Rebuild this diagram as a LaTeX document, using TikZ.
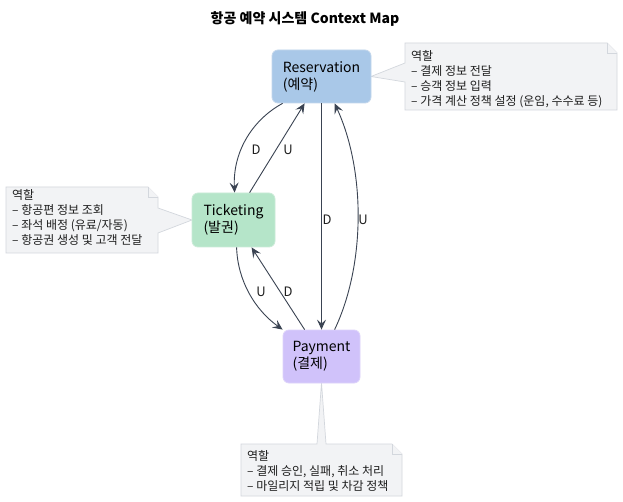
\documentclass[tikz,border=0pt]{standalone}
\usepackage{fontspec}
\setmainfont{Noto Sans CJK KR}
\usetikzlibrary{arrows.meta,calc}
\definecolor{resfill}{HTML}{A9C8E8}
\definecolor{resdraw}{HTML}{C3D7EC}
\definecolor{ticfill}{HTML}{B5E5C9}
\definecolor{ticdraw}{HTML}{CBEBD8}
\definecolor{payfill}{HTML}{D0C2FA}
\definecolor{paydraw}{HTML}{DDD3FA}
\definecolor{notefill}{HTML}{F2F3F5}
\definecolor{notedraw}{HTML}{D3D7DD}
\definecolor{arrc}{HTML}{3A4352}
\definecolor{txt}{HTML}{1E1E1E}
\begin{document}
\begin{tikzpicture}[x=1pt,y=-1pt,
  ctx/.style={rounded corners=6pt, line width=0.8pt, align=left, inner sep=0pt, font=\fontsize{14}{17}\selectfont, text=black},
  arr/.style={draw=arrc, line width=0.9pt, -{Stealth[length=10pt,width=9pt,inset=4pt]}},
  lbl/.style={font=\fontsize{13}{15}\selectfont, text=txt, inner sep=0pt},
  notebox/.style={fill=notefill, draw=notedraw, line width=0.7pt, line join=miter},
  notetext/.style={font=\fontsize{12}{15}\selectfont, align=left, inner sep=0pt, anchor=north west, text=txt}
]
\path[use as bounding box, fill=white] (0,0) rectangle (623,502);

% title
\node[font=\fontsize{14}{16}\selectfont\bfseries, inner sep=0pt] (title) at (305,19) {항공 예약 시스템 Context Map};

% node centres and note wedge tips
\path (321.5,76.5) coordinate (rc) (233.5,220) coordinate (tc) (321.5,356.5) coordinate (pc);
\path (371,76.5) coordinate (rese) (192,220) coordinate (ticw) (321.5,383) coordinate (pays);

% notes with wedges
\draw[notebox] (405,43) -- (607,43) -- (617,53) -- (617,110) -- (405,110) -- (405,82) -- (rese) -- (405,63) -- cycle;
\draw[notebox] (607,43) -- (607,53) -- (617,53);
\node[notetext] (rnote) at (411,50) {역할\\– 결제 정보 전달\\– 승객 정보 입력\\– 가격 계산 정책 설정 (운임, 수수료 등)};

\draw[notebox] (6,187) -- (148,187) -- (158,197) -- (158,208) -- (ticw) -- (158,233) -- (158,253) -- (6,253) -- cycle;
\draw[notebox] (148,187) -- (148,197) -- (158,197);
\node[notetext] (tnote) at (12,189.5) {역할\\– 항공편 정보 조회\\– 좌석 배정 (유료/자동)\\– 항공권 생성 및 고객 전달};

\draw[notebox] (241,444) -- (317,444) -- (pays) -- (326,444) -- (392,444) -- (402,454) -- (402,496) -- (241,496) -- cycle;
\draw[notebox] (392,444) -- (392,454) -- (402,454);
\node[notetext] (pnote) at (247,450.5) {역할\\– 결제 승인, 실패, 취소 처리\\– 마일리지 적립 및 차감 정책};

% context nodes
\node[ctx, fill=resfill, draw=resdraw, minimum width=99pt, minimum height=53pt] (res) at (rc) {Reservation\\(예약)};
\node[ctx, fill=ticfill, draw=ticdraw, minimum width=83pt, minimum height=54pt] (tic) at (tc) {Ticketing\\(발권)};
\node[ctx, fill=payfill, draw=paydraw, minimum width=77pt, minimum height=53pt] (pay) at (pc) {Payment\\(결제)};

% connectors
\draw[arr] ($(res.south west)+(11,0)$) .. controls +(-28,15) and +(-2,-43) .. ($(tic.north west)+(43,0)$);
\draw[arr] ($(tic.north west)+(58,0)$) -- ($(res.south west)+(33,0)$);
\draw[arr] (res.south) -- (pay.north);
\draw[arr] ($(pay.north west)+(52,0)$) .. controls +(31,-65) and +(31,67) .. ($(res.south west)+(63,0)$);
\draw[arr] ($(tic.south west)+(45,0)$) .. controls +(1,33) and +(-28,-20) .. (pay.north west);
\draw[arr] ($(pay.north west)+(22,0)$) -- ($(tic.south west)+(60,0)$);

% labels
\node[lbl] (l1) at (256,150) {D};
\node[lbl] (l2) at (288,150) {U};
\node[lbl] (l3) at (327,220) {D};
\node[lbl] (l4) at (363,220) {U};
\node[lbl] (l5) at (261,292) {U};
\node[lbl] (l6) at (288,292) {D};
\end{tikzpicture}
\end{document}
